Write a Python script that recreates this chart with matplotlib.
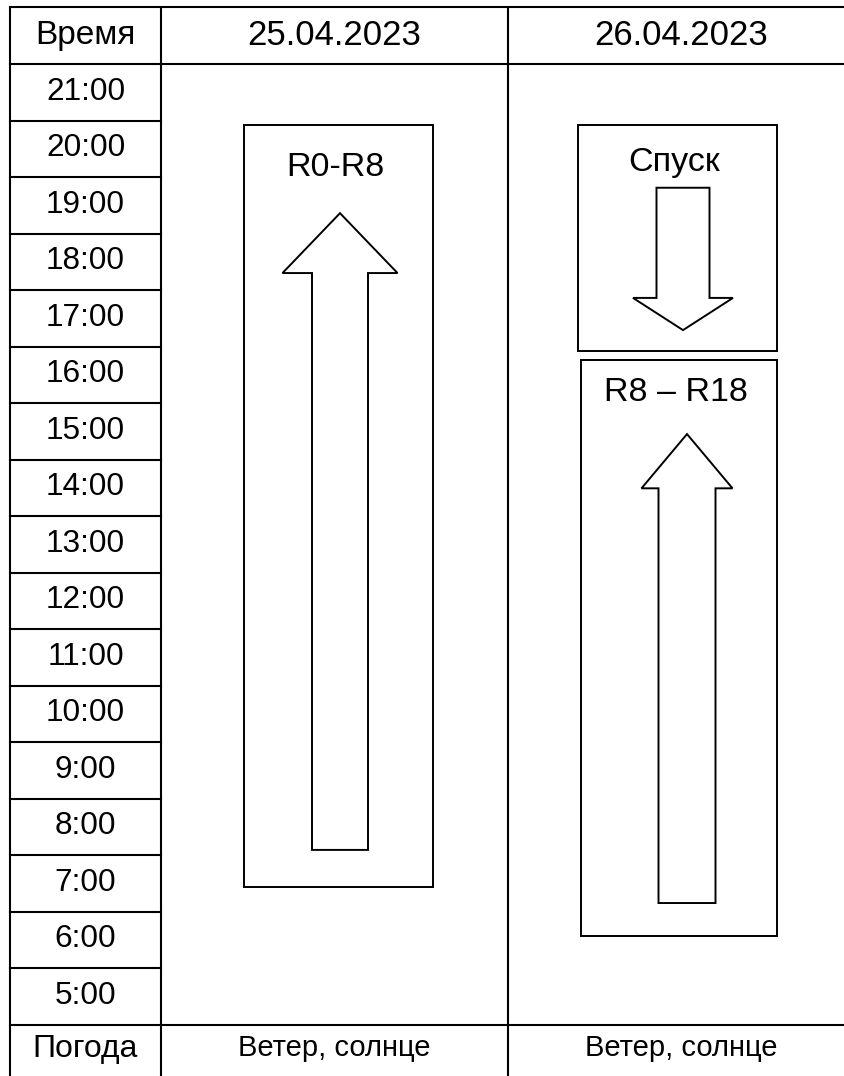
import matplotlib
matplotlib.use("Agg")
import matplotlib.pyplot as plt
from matplotlib.patches import Rectangle, Polygon

plt.rcParams['font.family'] = ['Liberation Sans', 'DejaVu Sans']

# ---- data ----
hours = list(range(21, 4, -1))                  # 21:00 ... 5:00
hour_labels = [f"{h}:00" for h in hours]
dates = ["25.04.2023", "26.04.2023"]
weather = ["Ветер, солнце", "Ветер, солнце"]
header_first = "Время"
weather_title = "Погода"

# activities: (day index, label, start hour, end hour, direction)
act_day = [0, 1, 1]
act_label = ["R0-R8", "Спуск", "R8 – R18"]
act_start = [7.43, 16.92, 6.57]
act_end = [20.92, 20.92, 16.76]
act_dir = ["up", "down", "up"]
# arrow extents (hours)
arr_tail = [8.09, 19.81, 7.15]
arr_tip = [19.36, 17.29, 15.45]

# ---- layout (pixels / styles) ----
W, H = 844, 1076
ROW = 56.5
Y22 = 64
col_edges = [10, 161, 508, 855]
box_x = [(244, 433), (578, 777), (581, 777)]
arr_cx = [340, 683, 687]
shaft_w = [56, 53, 57]
head_w = [115, 100, 91]
head_len = [1.06, 0.57, 0.96]
label_y = [20.17, 20.26, 16.19]

fig = plt.figure(figsize=(W / 100, H / 100), dpi=100)
ax = fig.add_axes([0, 0, 1, 1])
ax.set_xlim(0, W)
ax.set_ylim(22 - (H - Y22) / ROW, 22 + Y22 / ROW)
ax.axis('off')

top = 22 + (Y22 - 7) / ROW
bottom = 3.5
lw_t = 1.5
for x in col_edges:
    ax.plot([x, x], [bottom, top], color='black', lw=lw_t, solid_capstyle='butt')
ax.plot([col_edges[0], col_edges[-1]], [top, top], color='black', lw=lw_t)
ax.plot([col_edges[0], col_edges[-1]], [22, 22], color='black', lw=lw_t)
ax.plot([col_edges[0], col_edges[-1]], [5, 5], color='black', lw=lw_t)
for h in hours[1:]:
    ax.plot([col_edges[0], col_edges[1]], [h + 1, h + 1], color='black', lw=lw_t)

c0 = (col_edges[0] + col_edges[1]) / 2
ax.text(c0, 22.51, header_first, ha='center', va='center', fontsize=24)
for i, d in enumerate(dates):
    cx = (col_edges[i + 1] + col_edges[i + 2]) / 2
    ax.text(cx, 22.51, d, ha='center', va='center', fontsize=25)
    ax.text(cx, 4.58, weather[i], ha='center', va='center', fontsize=21)
ax.text(c0, 4.57, weather_title, ha='center', va='center', fontsize=23)
for h, lab in zip(hours, hour_labels):
    ax.text(c0, h + 0.51, lab, ha='center', va='center', fontsize=22.7)

for i in range(len(act_label)):
    x0, x1 = box_x[i]
    ax.add_patch(Rectangle((x0, act_start[i]), x1 - x0, act_end[i] - act_start[i],
                           fill=False, ec='black', lw=1.4))
    ax.text((x0 + x1) / 2 - 3, label_y[i], act_label[i], ha='center', va='center', fontsize=24.5)
    cx = arr_cx[i]
    sw, hw, hl = shaft_w[i] / 2, head_w[i] / 2, head_len[i]
    tail, tip = arr_tail[i], arr_tip[i]
    sgn = 1 if act_dir[i] == "up" else -1
    base = tip - sgn * hl
    pts = [(cx - sw, tail), (cx - sw, base), (cx - hw, base), (cx, tip),
           (cx + hw, base), (cx + sw, base), (cx + sw, tail)]
    ax.add_patch(Polygon(pts, closed=True, fill=False, ec='black', lw=1.4, joinstyle='miter'))

fig.savefig("out.png", dpi=100, facecolor='white')
